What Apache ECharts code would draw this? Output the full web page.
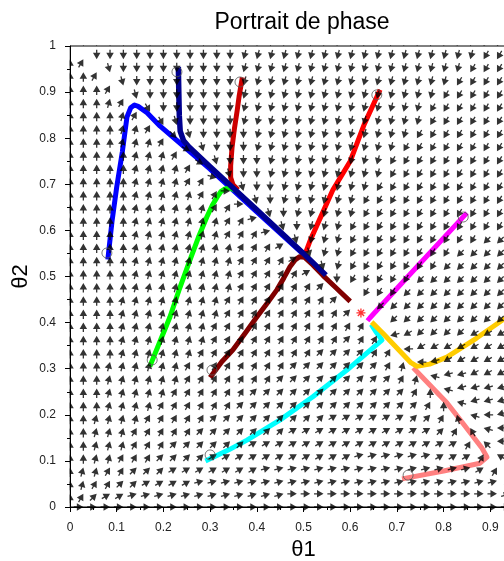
<!DOCTYPE html>
<html><head><meta charset="utf-8">
<script src="https://cdn.jsdelivr.net/npm/echarts@6/dist/echarts.min.js"></script>
<style>html,body{margin:0;padding:0;background:#fff}#c{width:504px;height:561px}</style>
</head><body><div id="c"></div>
<script>
// ---------- data ----------
const titleText = 'Portrait de phase';
const xName = 'θ1';
const yName = 'θ2';
const tickLabels = ['0','0.1','0.2','0.3','0.4','0.5','0.6','0.7','0.8','0.9','1'];
const fieldCount = 36; // arrows per row / column on [0,1]
// arrow directions, bottom row first; letter a=0deg, b=15deg ... x=345deg (counter-clockwise), '.' = none
// run-length coded: letter followed by repeat count
const fieldRows = [
 '. a34 .',
 'g e d c2 b12 a16 b d l',
 'g f e2 d2 c4 b23 e l m',
 'g f2 e2 d3 c7 b16 c e k m2',
 'g2 f2 e3 d4 c11 b6 c3 e k m3',
 'g2 f3 e3 d6 c16 e j m4',
 'g2 f3 e5 d7 c11 d e i l m3 n',
 'g2 f4 e5 d9 c6 d2 e h l m n4',
 'g3 f4 e6 d14 e g l n6',
 'g3 f5 e6 d12 e g l n7',
 'g3 f6 e7 d9 e f l n2 o6',
 'g3 f6 e8 d7 e f m n o8',
 'g4 f6 e9 d4 e2 m o10',
 'g4 f7 e10 d e2 n o p4 o6',
 'g4 f7 e12 . p10 o2',
 'g4 f8 e9 d . p13',
 'g4 f8 e8 d . q3 p11',
 'g5 f8 e6 d s q5 p10',
 'g5 f8 e5 c t r q7 p8',
 'g5 f8 e4 c t r2 q8 p7',
 'g5 f8 e3 c t r3 q10 p5',
 'g5 f7 e3 b t s r3 q12 p3',
 'g5 f7 e2 b t s r5 q12 p2',
 'g5 f6 e2 a t s r6 q14',
 'g5 f5 e2 a t s2 r7 q13',
 'g5 f4 e2 x t s2 r9 q12',
 'g5 f4 e w t s3 r9 q12',
 'g5 f3 e w t s3 r11 q11',
 'g4 f3 e v t s4 r12 q10',
 'g4 f2 e u t s4 r14 q9',
 'g4 f e u s6 r14 q9',
 'g3 f e t s7 r15 q8',
 'g3 e t s8 r16 q7',
 'g2 e t s9 r17 q6',
 'g e s11 r18 q5',
 '. s12 r18 q5'
];
const trajBlue    = [[0.081,0.537],[0.09,0.62],[0.1,0.694],[0.112,0.77],[0.122,0.846],[0.13,0.866],[0.138,0.872],[0.146,0.869],[0.165,0.855],[0.193,0.826],[0.229,0.795],[0.3,0.733],[0.4,0.64],[0.5,0.548],[0.546,0.503]];
const trajRed     = [[0.664,0.905],[0.63,0.83],[0.6,0.75],[0.563,0.688],[0.535,0.625],[0.515,0.58],[0.505,0.553]];
const trajDarkRed = [[0.369,0.932],[0.362,0.89],[0.358,0.86],[0.352,0.82],[0.347,0.78],[0.344,0.74],[0.344,0.715],[0.349,0.699],[0.36,0.688]];
const trajGreen   = [[0.171,0.305],[0.195,0.365],[0.214,0.412],[0.235,0.475],[0.257,0.536],[0.275,0.585],[0.293,0.629],[0.305,0.655],[0.315,0.672],[0.323,0.684],[0.332,0.69],[0.342,0.692],[0.352,0.688]];
const trajMaroon  = [[0.3,0.281],[0.325,0.315],[0.349,0.341],[0.375,0.377],[0.4,0.412],[0.423,0.443],[0.443,0.471],[0.458,0.497],[0.471,0.521],[0.482,0.536],[0.492,0.543],[0.502,0.542],[0.52,0.525],[0.542,0.502],[0.57,0.475],[0.6,0.446]];
const trajNavy    = [[0.232,0.955],[0.233,0.9],[0.234,0.85],[0.236,0.815],[0.243,0.795],[0.255,0.781],[0.3,0.738],[0.4,0.645],[0.5,0.55],[0.548,0.503]];
const trajCyan    = [[0.29,0.1],[0.34,0.124],[0.379,0.145],[0.45,0.189],[0.52,0.239],[0.593,0.297],[0.668,0.362],[0.656,0.379],[0.645,0.396]];
const trajPink    = [[0.711,0.061],[0.8,0.078],[0.878,0.095],[0.893,0.108],[0.882,0.128],[0.845,0.177],[0.807,0.226],[0.77,0.265],[0.735,0.302]];
const trajGold    = [[0.95,0.421],[0.927,0.406],[0.87,0.366],[0.807,0.325],[0.77,0.31],[0.743,0.305],[0.73,0.313],[0.7,0.345],[0.67,0.377],[0.646,0.401]];
const trajMagenta = [[0.85,0.638],[0.743,0.521],[0.66,0.43],[0.642,0.41],[0.637,0.404]];
const startPoints = [[0.079,0.551],[0.229,0.944],[0.364,0.922],[0.176,0.319],[0.304,0.297],[0.657,0.894],[0.842,0.629],[0.3,0.113],[0.724,0.069]];
const equilibrium = [[0.623,0.421]];

// ---------- build ----------
function expandRow(s){
  const out=[];
  s.split(' ').forEach(t=>{const c=t[0];const n=t.length>1?parseInt(t.slice(1),10):1;for(let k=0;k<n;k++)out.push(c);});
  return out;
}
const arrowLen = 9.5;
const arrowData = [];
fieldRows.forEach((row,j)=>{
  expandRow(row).forEach((c,i)=>{
    if(c==='.') return;
    const ang=(c.charCodeAt(0)-97)*15;
    const r=ang*Math.PI/180;
    arrowData.push({
      value:[i/(fieldCount-1), j/(fieldCount-1)],
      symbolRotate: ang,
      symbolOffset:[-arrowLen/2*Math.cos(r), arrowLen/2*Math.sin(r)]
    });
  });
});
const arrowPath='path://M0,31L30,31L30,0L95,37.5L30,75L30,44L0,44Z';
const starPath='path://M5,0L5,10M0,5L10,5M1.5,1.5L8.5,8.5M8.5,1.5L1.5,8.5';
const FONT='Liberation Sans';

function traj(data,color,width){
  return {type:'line',data:data,symbol:'none',showSymbol:false,silent:true,
    lineStyle:{color:color,width:width,cap:'butt',join:'round'},z:2};
}
const axisCommon = {
  type:'value',min:0,max:1,interval:0.1,z:5,
  nameLocation:'middle',
  nameTextStyle:{fontSize:22,color:'#000',fontFamily:FONT},
  axisLine:{lineStyle:{color:'#000',width:1}},
  axisTick:{length:5,lineStyle:{color:'#000'}},
  minorTick:{show:true,splitNumber:2,length:3,lineStyle:{color:'#000'}},
  splitLine:{show:false},
  minorSplitLine:{show:false}
};
const chart=echarts.init(document.getElementById('c'),null,{renderer:'canvas'});
chart.setOption({
  animation:false,
  backgroundColor:'#fff',
  title:{text:titleText,left:297,top:6,textAlign:'center',
    textStyle:{fontSize:23,fontWeight:'normal',color:'#000',fontFamily:FONT}},
  grid:{left:70,right:-33,top:46,bottom:54,outerBoundsMode:'none',containLabel:false,
    show:true,borderColor:'#000',borderWidth:1,backgroundColor:'#fff'},
  xAxis:Object.assign({},axisCommon,{name:xName,nameGap:31,
    axisLabel:{fontSize:12,color:'#222',margin:15,fontFamily:FONT,formatter:v=>tickLabels[Math.round(v*10)]}}),
  yAxis:Object.assign({},axisCommon,{name:yName,nameGap:38,nameMoveOverlap:false,
    axisLabel:{fontSize:12,color:'#222',margin:14,fontFamily:FONT,formatter:v=>tickLabels[Math.round(v*10)]}}),
  graphic:[
    {type:'rect',shape:{x:0,y:0,width:504,height:45},style:{fill:'#fff'},z:3.5,silent:true},
    {type:'rect',shape:{x:0,y:0,width:69.5,height:561},style:{fill:'#fff'},z:3.5,silent:true}
  ],
  series:[
    {type:'scatter',data:arrowData,symbol:arrowPath,symbolSize:[arrowLen,7.5],silent:true,
      itemStyle:{color:'#000'},z:2},
    traj(trajBlue,'#0000ff',5),
    traj(trajRed,'#ff0000',5),
    traj(trajDarkRed,'#cc0000',5),
    traj(trajGreen,'#00ff00',5),
    traj(trajMaroon,'#800000',5),
    traj(trajNavy,'#000090',5.5),
    traj(trajCyan,'#00ffff',5),
    traj(trajPink,'#ff8080',5),
    traj(trajGold,'#ffcc00',5),
    traj(trajMagenta,'#ff00ff',5),
    {type:'scatter',data:startPoints,symbol:'circle',symbolSize:10,silent:true,
      itemStyle:{color:'rgba(0,0,0,0)',borderColor:'#555',borderWidth:1},z:2},
    {type:'scatter',data:equilibrium,symbol:starPath,symbolSize:9,silent:true,
      itemStyle:{color:'rgba(0,0,0,0)',borderColor:'#ff0000',borderWidth:1.3},z:2}
  ]
});
</script>
</body></html>
